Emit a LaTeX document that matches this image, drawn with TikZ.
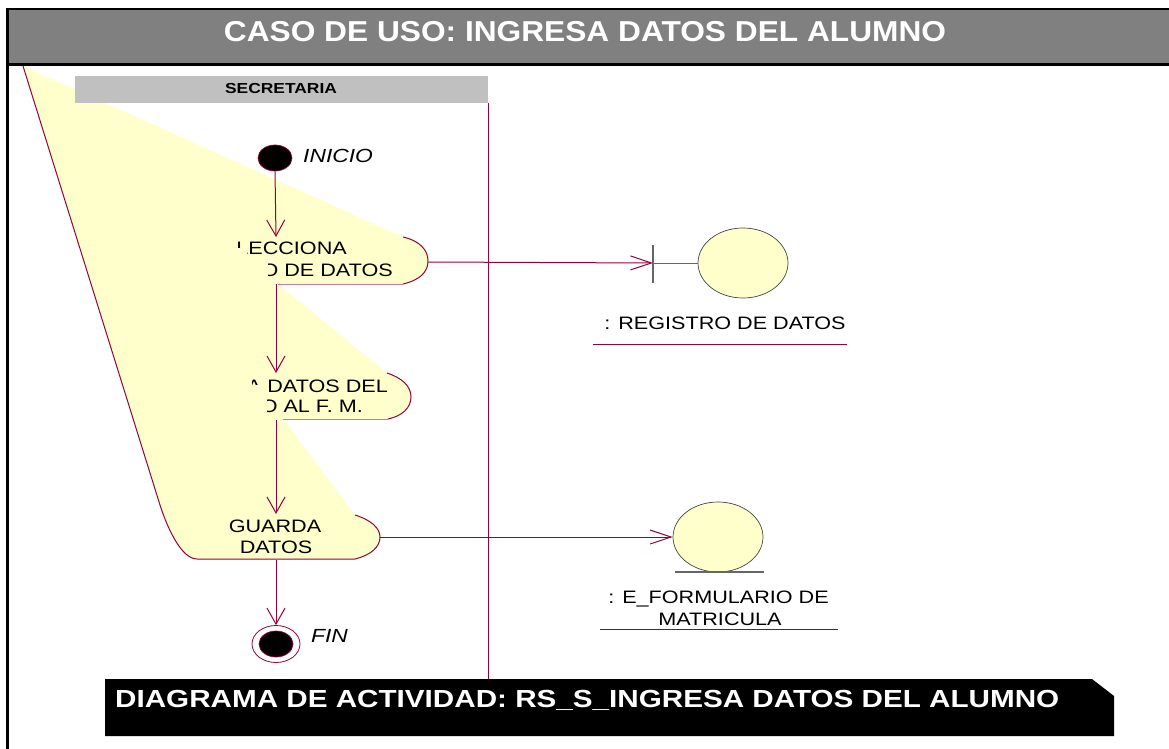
\documentclass[tikz,border=0pt]{standalone}
\usepackage{fontspec}
\setmainfont{Liberation Sans}[FakeStretch=1.2]
\newfontfamily\titlefont{Liberation Sans}[FakeStretch=1.1]
\usetikzlibrary{arrows.meta,shapes.geometric}
\definecolor{rosered}{RGB}{150,0,60}
\definecolor{rosepink}{RGB}{205,120,150}
\definecolor{roseyellow}{RGB}{255,255,204}
\definecolor{hdrgray}{RGB}{128,128,128}
\definecolor{lanegray}{RGB}{192,192,192}
\definecolor{objline}{RGB}{70,70,70}
\begin{document}
\begin{tikzpicture}[x=1pt,y=-1pt,
  flow/.style={draw=rosered,line width=1pt,-{Straight Barb[length=16pt,width=18pt,line width=1pt]}},
  msg/.style={draw=rosered,line width=1pt,-{Straight Barb[length=21pt,width=14pt,line width=1pt]}},
  acttext/.style={font=\fontsize{18}{20}\selectfont,inner sep=0pt},
  lbltext/.style={font=\fontsize{19}{21}\selectfont\itshape,inner sep=0pt},
  edge/.style={draw=rosered,line width=1pt},
  pinkedge/.style={draw=rosepink,line width=1pt},
  objell/.style={ellipse,draw=objline,line width=0.7pt,fill=roseyellow,minimum width=90pt,minimum height=70pt,inner sep=0pt},
  startdot/.style={ellipse,draw=rosered,line width=0.7pt,fill=black,minimum width=34pt,minimum height=26pt,inner sep=0pt}
]
\clip (0,0) rectangle (1169,749);
\fill[white] (0,0) rectangle (1169,749);

% header
\fill[hdrgray] (7,8) rectangle (1185,64);
\draw[black,line width=2.5pt] (1185,9) -- (7.5,9) -- (7.5,760);
\draw[black,line width=2.5pt] (7.5,64.5) -- (1185,64.5);
\node[font=\titlefont\fontsize{28.8}{32}\selectfont\bfseries,text=white,anchor=base,inner sep=0pt] (title) at (585,42) {CASO DE USO: INGRESA DATOS DEL ALUMNO};

% distorted yellow activity region
\fill[roseyellow] (23,66) -- (403,237) .. controls (420,241) and (428,250) .. (428,261) .. controls (428,272) and (420,280) .. (403,284) -- (278,284) -- (387,373) .. controls (402,378) and (411,386) .. (411,397) .. controls (411,408) and (402,416) .. (388,419) -- (283,419) -- (355,515) .. controls (371,520) and (380,528) .. (380,537) .. controls (380,547) and (371,555) .. (355,559) -- (197,559) .. controls (182,559) and (168,530) .. (160,505) -- cycle;
\draw[edge] (23,66) -- (160,505) .. controls (168,530) and (182,559) .. (197,559) -- (355,559) .. controls (371,555) and (380,547) .. (380,537) .. controls (380,528) and (371,520) .. (355,515);
\draw[edge] (403,237) .. controls (420,241) and (428,250) .. (428,261) .. controls (428,272) and (420,280) .. (403,284);
\draw[pinkedge] (403,284) -- (278,284);
\draw[edge] (387,373) .. controls (402,378) and (411,386) .. (411,397) .. controls (411,408) and (402,416) .. (388,419);
\draw[pinkedge] (388,419) -- (283,419);

% activity texts
\begin{scope}
\clip (237,235) -- (237,247) -- (247,247) -- (247,258) -- (268,258) -- (268,282) -- (420,282) -- (420,235) -- cycle;
\node[acttext,anchor=base east] (t1a) at (347,254) {SELECCIONA};
\node[acttext,anchor=base east] (t1b) at (393,276) {TIPO DE DATOS};
\end{scope}
\begin{scope}
\clip (252,375) -- (252,384) -- (262,384) -- (262,396) -- (267,396) -- (267,418) -- (420,418) -- (420,375) -- cycle;
\node[acttext,anchor=base east] (t2a) at (388,392) {INGRESA DATOS DEL};
\node[acttext,anchor=base east] (t2b) at (363,412) {ALUMNO AL F. M.};
\end{scope}
\node[acttext,anchor=base] (t3a) at (275,532) {GUARDA};
\node[acttext,anchor=base] (t3b) at (276,553) {DATOS};

% swimlane
\fill[lanegray] (75,76) rectangle (488,103);
\node[font=\fontsize{14.5}{16}\selectfont\bfseries,anchor=base,inner sep=0pt] (lane) at (281,94) {SECRETARIA};
\draw[edge] (488,103) -- (488,679);

% start / end
\node[startdot] (ini) at (275,158) {};
\node[lbltext,anchor=base west] (inilbl) at (303,162) {INICIO};
\node[ellipse,draw=rosered,line width=0.8pt,fill=white,minimum width=48pt,minimum height=37pt,inner sep=0pt] (fin) at (276,644) {};
\node[startdot] (fininner) at (fin.center) {};
\node[lbltext,anchor=base west] (finlbl) at (311,642) {FIN};

% anchor points of the activities
\coordinate (s1top) at (276,237);
\coordinate (s1bot) at (276,284);
\coordinate (s1right) at (428,262);
\coordinate (s2top) at (276,373);
\coordinate (s2bot) at (276,420);
\coordinate (s3top) at (276,514);
\coordinate (s3bot) at (276,560);
\coordinate (s3right) at (380,537);

% flows
\draw[flow] (ini.south) -- (s1top);
\draw[flow] (s1bot) -- (s2top);
\draw[flow] (s2bot) -- (s3top);
\draw[flow] (s3bot) -- (fin.north);

% boundary object
\node[objell] (reg) at (743,263) {};
\coordinate (bar) at (653,263);
\draw[draw=gray!80!black,line width=1.4pt] (653,245) -- (653,283);
\draw[draw=gray!80!black,line width=1pt] (bar) -- (reg.west);
\draw[msg] (s1right) -- (bar);
\node[acttext,anchor=base] (reglbl) at (725,329) {: REGISTRO DE DATOS};
\draw[edge] (593,344) -- (847,344);

% entity object
\node[objell] (ent) at (718,537) {};
\draw[draw=gray!80!black,line width=1.3pt] (675,572) -- (764,572);
\draw[msg] (s3right) -- (ent.west);
\node[acttext,anchor=base] (entlbl1) at (718.5,603) {: E\_FORMULARIO DE};
\node[acttext,anchor=base] (entlbl2) at (720,625) {MATRICULA};
\draw[edge] (600,629) -- (838,629);

% bottom banner
\fill[black] (105,679) -- (1092,679) -- (1114,696) -- (1114,736) -- (105,736) -- cycle;
\node[font=\fontsize{24.7}{28}\selectfont\bfseries,text=white,anchor=base west,inner sep=0pt] (banner) at (115,707) {DIAGRAMA DE ACTIVIDAD: RS\_S\_INGRESA DATOS DEL ALUMNO};
\end{tikzpicture}
\end{document}
